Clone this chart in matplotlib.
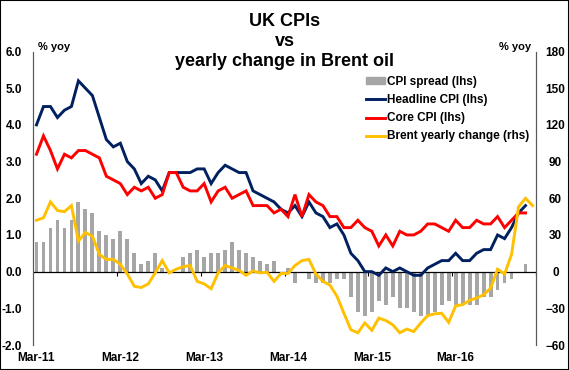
import matplotlib
matplotlib.use("Agg")
import matplotlib.pyplot as plt
import matplotlib.patches as patches
from matplotlib.lines import Line2D
import numpy as np
import pandas as pd

plt.rcParams['font.family'] = ['Liberation Sans', 'DejaVu Sans']
plt.rcParams['font.weight'] = 'bold'

# monthly, Mar-11 .. Feb-17
months = pd.period_range('2011-03', '2017-02', freq='M')

# UK headline CPI, % yoy (Mar-11 .. Jan-17)
headline = [4.0, 4.5, 4.5, 4.2, 4.4, 4.5, 5.2, 5.0, 4.8, 4.2, 3.6, 3.4,
            3.5, 3.0, 2.8, 2.4, 2.6, 2.5, 2.2, 2.7, 2.7, 2.7, 2.7, 2.8,
            2.8, 2.4, 2.7, 2.9, 2.8, 2.7, 2.7, 2.2, 2.1, 2.0, 1.9, 1.7,
            1.6, 1.8, 1.5, 1.9, 1.6, 1.5, 1.2, 1.3, 1.0, 0.5, 0.3, 0.0,
            0.0, -0.1, 0.1, 0.0, 0.1, 0.0, -0.1, -0.1, 0.1, 0.2, 0.3, 0.3,
            0.5, 0.3, 0.3, 0.5, 0.6, 0.6, 1.0, 0.9, 1.2, 1.6, 1.8]

# UK core CPI, % yoy
core = [3.2, 3.7, 3.3, 2.8, 3.2, 3.1, 3.3, 3.3, 3.2, 3.1, 2.6, 2.5,
        2.4, 2.1, 2.3, 2.2, 2.3, 2.0, 2.1, 2.7, 2.7, 2.3, 2.2, 2.2,
        2.4, 1.9, 2.2, 2.3, 2.0, 2.1, 2.2, 1.8, 1.8, 1.8, 1.6, 1.7,
        1.5, 2.1, 1.5, 2.1, 1.9, 1.8, 1.5, 1.5, 1.2, 1.2, 1.4, 1.2,
        1.1, 0.7, 1.0, 0.7, 1.1, 1.0, 1.0, 1.1, 1.3, 1.3, 1.2, 1.1,
        1.4, 1.2, 1.2, 1.4, 1.3, 1.3, 1.5, 1.2, 1.4, 1.6, 1.6]

# headline minus core, pp
spread = [0.8, 0.8, 1.2, 1.4, 1.2, 1.4, 1.9, 1.7, 1.6, 1.1, 1.0, 0.9,
          1.1, 0.9, 0.5, 0.2, 0.3, 0.5, 0.1, 0.0, 0.0, 0.4, 0.5, 0.6,
          0.4, 0.5, 0.5, 0.6, 0.8, 0.6, 0.5, 0.4, 0.3, 0.2, 0.3, 0.0,
          0.1, -0.3, 0.0, -0.2, -0.3, -0.3, -0.3, -0.2, -0.2, -0.7, -1.1, -1.2,
          -1.1, -0.8, -0.9, -0.7, -1.0, -1.0, -1.1, -1.2, -1.2, -1.1, -0.9, -0.8,
          -0.9, -0.9, -0.9, -0.9, -0.7, -0.7, -0.5, -0.3, -0.2, 0.0, 0.2]

# Brent, % yoy (Mar-11 .. Feb-17)
brent = [42, 44, 57, 50, 49, 54, 25, 32, 29, 14, 10, 10,
         6, -2, -12, -13, -10, -1, 9, -1, 2, 4, 5, -8,
         -10, -14, -1, 5, 3, 1, -3, 0.5, -1, -0.5, -8, -1.5,
         -1.5, 5, 9, 10, -2, -8, -11, -20, -34, -47.5, -50, -42,
         -48, -38, -40, -43.5, -50, -47, -49, -42, -36, -34.5, -34, -41.5,
         -28, -27, -23.5, -21.5, -19, -13.5, 2, -2, 14, 53, 60, 54]

tick_labels = ['Mar-11', 'Mar-12', 'Mar-13', 'Mar-14', 'Mar-15', 'Mar-16']

navy = '#002060'
red = '#FF0000'
gold = '#FFC000'
grey = '#A6A6A6'

fig = plt.figure(figsize=(5.69, 3.70), dpi=100)
ax = fig.add_axes([33 / 569, 25 / 370, 503 / 569, 293.5 / 370])
ax2 = ax.twinx()

x_all = np.arange(len(months))
x_cpi = x_all[:len(headline)]

ax.bar(x_cpi, spread, width=0.55, color=grey, zorder=2)
ax.axhline(0, color='black', lw=0.9, zorder=3)
ax.plot(x_cpi, headline, color=navy, lw=2.1, zorder=4, solid_joinstyle='miter')
ax.plot(x_cpi, core, color=red, lw=2.1, zorder=5, solid_joinstyle='miter')
ax2.plot(x_all, brent, color=gold, lw=2.1, zorder=5, solid_joinstyle='miter')

ax.set_xlim(-0.5, len(months) - 0.5)
ax.set_ylim(-2, 6)
ax2.set_ylim(-60, 180)

ax.set_yticks(np.arange(-2, 6.1, 1))
ax.set_yticklabels([f'{v:.1f}' for v in np.arange(-2, 6.1, 1)])
ax2.set_yticks(np.arange(-60, 181, 30))
for lab in ax2.get_yticklabels():
    lab.set_ha('center')

ax.set_xticks(x_all[::12][:len(tick_labels)])
ax.set_xticklabels(tick_labels)
ax.tick_params(axis='x', length=0, pad=5, labelsize=8.5)
ax.tick_params(axis='y', length=0, pad=8, labelsize=8.5)
ax2.tick_params(axis='y', length=0, pad=14, labelsize=8.5)

# small ticks on the zero line, between Feb and Mar
sec = ax.secondary_xaxis(0.25)
sec.set_xticks(x_all[11::12] + 0.5)
sec.tick_params(axis='x', length=3, width=0.8, direction='out', labelbottom=False)
sec.spines['bottom'].set_visible(False)

for a in (ax, ax2):
    a.spines['top'].set_visible(False)
    a.spines['bottom'].set_visible(False)
    a.spines['left'].set_color('#595959')
    a.spines['right'].set_color('#595959')
    a.spines['left'].set_linewidth(0.8)
    a.spines['right'].set_linewidth(0.8)
    a.patch.set_visible(False)

fig.text(38 / 569, 1 - 47 / 370, '% yoy', fontsize=8, va='center', ha='left')
fig.text(531 / 569, 1 - 47 / 370, '% yoy', fontsize=8, va='center', ha='right')

fig.text(0.5, 1 - 26 / 370, 'UK CPIs', fontsize=13, ha='center', va='baseline')
fig.text(0.5, 1 - 46 / 370, 'vs', fontsize=13, ha='center', va='baseline')
fig.text(0.5, 1 - 66.5 / 370, 'yearly change in Brent oil', fontsize=13,
         ha='center', va='baseline')

handles = [patches.Patch(color=grey),
           Line2D([], [], color=navy, lw=2.1),
           Line2D([], [], color=red, lw=2.1),
           Line2D([], [], color=gold, lw=2.1)]
labels = ['CPI spread (lhs)', 'Headline CPI (lhs)', 'Core CPI (lhs)',
          'Brent yearly change (rhs)']
leg = ax2.legend(handles, labels, loc='upper left',
                 bbox_to_anchor=(366 / 569, 1 - 76 / 370),
                 bbox_transform=fig.transFigure, frameon=False,
                 fontsize=8.5, handlelength=1.6, handletextpad=0.2,
                 labelspacing=0.52, borderpad=0, borderaxespad=0,
                 handleheight=0.5)

fig.patches.append(patches.Rectangle((0, 0), 1, 1, transform=fig.transFigure,
                                     fill=False, ec='black', lw=1.5))

fig.savefig('out.png', dpi=100)
plt.close(fig)
